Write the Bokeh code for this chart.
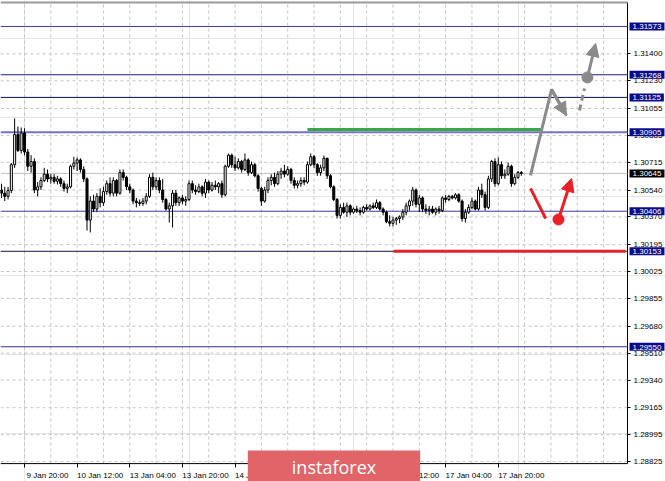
from bokeh.plotting import figure
from bokeh.models import (ColumnDataSource, Range1d, LinearAxis, FixedTicker, Label,
                          Arrow, NormalHead, PrintfTickFormatter)
from bokeh.embed import file_html
from bokeh.resources import INLINE

# ---------------- data ----------------
bar_index = list(range(-7, 152))
opens = [1.30540, 1.30520, 1.30500, 1.30537, 1.30700, 1.30890, 1.30790, 1.30900, 1.30780, 1.30690,
         1.30720, 1.30540, 1.30560, 1.30600, 1.30640, 1.30610, 1.30620, 1.30595, 1.30610, 1.30580,
         1.30550, 1.30560, 1.30690, 1.30710, 1.30730, 1.30670, 1.30610, 1.30350, 1.30470, 1.30420,
         1.30500, 1.30460, 1.30530, 1.30580, 1.30520, 1.30600, 1.30520, 1.30650, 1.30620, 1.30560,
         1.30540, 1.30470, 1.30460, 1.30455, 1.30470, 1.30500, 1.30620, 1.30560, 1.30600, 1.30540,
         1.30480, 1.30420, 1.30440, 1.30520, 1.30460, 1.30490, 1.30470, 1.30480, 1.30580, 1.30540,
         1.30530, 1.30560, 1.30520, 1.30590, 1.30540, 1.30570, 1.30560, 1.30580, 1.30510, 1.30690,
         1.30760, 1.30700, 1.30680, 1.30720, 1.30670, 1.30730, 1.30650, 1.30700, 1.30630, 1.30550,
         1.30470, 1.30540, 1.30600, 1.30620, 1.30580, 1.30640, 1.30660, 1.30640, 1.30670, 1.30600,
         1.30570, 1.30580, 1.30600, 1.30590, 1.30700, 1.30750, 1.30700, 1.30650, 1.30680, 1.30740,
         1.30630, 1.30560, 1.30480, 1.30380, 1.30430, 1.30400, 1.30440, 1.30400, 1.30420, 1.30410,
         1.30400, 1.30430, 1.30420, 1.30440, 1.30430, 1.30460, 1.30420, 1.30400, 1.30340, 1.30330,
         1.30350, 1.30360, 1.30370, 1.30400, 1.30440, 1.30470, 1.30540, 1.30450, 1.30490, 1.30420,
         1.30410, 1.30420, 1.30400, 1.30420, 1.30410, 1.30490, 1.30480, 1.30500, 1.30490, 1.30510,
         1.30470, 1.30360, 1.30400, 1.30430, 1.30470, 1.30420, 1.30540, 1.30510, 1.30430, 1.30610,
         1.30720, 1.30580, 1.30700, 1.30630, 1.30640, 1.30690, 1.30580, 1.30620, 1.30650]
highs = [1.30580, 1.30560, 1.30560, 1.30710, 1.30992, 1.30941, 1.30935, 1.30930, 1.30800, 1.30760,
         1.30740, 1.30590, 1.30620, 1.30680, 1.30670, 1.30640, 1.30640, 1.30630, 1.30620, 1.30600,
         1.30580, 1.30700, 1.30750, 1.30745, 1.30740, 1.30690, 1.30620, 1.30500, 1.30510, 1.30520,
         1.30550, 1.30560, 1.30600, 1.30620, 1.30620, 1.30610, 1.30670, 1.30670, 1.30630, 1.30580,
         1.30550, 1.30490, 1.30480, 1.30490, 1.30520, 1.30640, 1.30650, 1.30620, 1.30620, 1.30610,
         1.30490, 1.30460, 1.30540, 1.30540, 1.30500, 1.30510, 1.30500, 1.30600, 1.30600, 1.30570,
         1.30580, 1.30570, 1.30610, 1.30600, 1.30590, 1.30600, 1.30590, 1.30600, 1.30700, 1.30770,
         1.30770, 1.30750, 1.30740, 1.30730, 1.30771, 1.30740, 1.30720, 1.30710, 1.30640, 1.30560,
         1.30560, 1.30620, 1.30640, 1.30650, 1.30660, 1.30680, 1.30700, 1.30690, 1.30680, 1.30620,
         1.30600, 1.30620, 1.30620, 1.30720, 1.30771, 1.30760, 1.30710, 1.30700, 1.30758, 1.30745,
         1.30640, 1.30570, 1.30490, 1.30450, 1.30460, 1.30460, 1.30450, 1.30430, 1.30440, 1.30430,
         1.30440, 1.30450, 1.30450, 1.30460, 1.30480, 1.30470, 1.30430, 1.30410, 1.30380, 1.30370,
         1.30370, 1.30380, 1.30420, 1.30460, 1.30480, 1.30560, 1.30550, 1.30510, 1.30500, 1.30450,
         1.30440, 1.30440, 1.30430, 1.30440, 1.30500, 1.30510, 1.30510, 1.30510, 1.30520, 1.30520,
         1.30480, 1.30420, 1.30450, 1.30490, 1.30480, 1.30560, 1.30580, 1.30530, 1.30630, 1.30730,
         1.30740, 1.30746, 1.30720, 1.30670, 1.30714, 1.30700, 1.30640, 1.30660, 1.30660]
lows = [1.30490, 1.30470, 1.30480, 1.30520, 1.30680, 1.30780, 1.30770, 1.30760, 1.30660, 1.30650,
        1.30520, 1.30500, 1.30540, 1.30590, 1.30590, 1.30580, 1.30580, 1.30575, 1.30560, 1.30530,
        1.30520, 1.30550, 1.30670, 1.30660, 1.30650, 1.30590, 1.30284, 1.30272, 1.30400, 1.30400,
        1.30430, 1.30440, 1.30510, 1.30500, 1.30500, 1.30500, 1.30510, 1.30600, 1.30540, 1.30520,
        1.30450, 1.30430, 1.30440, 1.30440, 1.30450, 1.30490, 1.30540, 1.30540, 1.30520, 1.30460,
        1.30410, 1.30335, 1.30303, 1.30440, 1.30440, 1.30450, 1.30440, 1.30470, 1.30520, 1.30510,
        1.30520, 1.30500, 1.30490, 1.30520, 1.30530, 1.30540, 1.30520, 1.30490, 1.30500, 1.30680,
        1.30680, 1.30660, 1.30670, 1.30650, 1.30660, 1.30630, 1.30640, 1.30620, 1.30530, 1.30440,
        1.30460, 1.30520, 1.30570, 1.30560, 1.30570, 1.30610, 1.30620, 1.30630, 1.30580, 1.30550,
        1.30550, 1.30560, 1.30570, 1.30580, 1.30690, 1.30680, 1.30630, 1.30630, 1.30660, 1.30610,
        1.30550, 1.30470, 1.30360, 1.30360, 1.30390, 1.30370, 1.30380, 1.30390, 1.30395, 1.30380,
        1.30390, 1.30410, 1.30410, 1.30420, 1.30420, 1.30410, 1.30380, 1.30330, 1.30310, 1.30310,
        1.30320, 1.30330, 1.30350, 1.30380, 1.30410, 1.30440, 1.30430, 1.30400, 1.30400, 1.30390,
        1.30380, 1.30390, 1.30380, 1.30390, 1.30400, 1.30460, 1.30470, 1.30480, 1.30480, 1.30460,
        1.30340, 1.30335, 1.30390, 1.30420, 1.30410, 1.30410, 1.30490, 1.30410, 1.30420, 1.30590,
        1.30560, 1.30570, 1.30610, 1.30610, 1.30630, 1.30560, 1.30570, 1.30610, 1.30630]
closes = [1.30520, 1.30500, 1.30537, 1.30700, 1.30890, 1.30790, 1.30900, 1.30780, 1.30690, 1.30720,
          1.30540, 1.30560, 1.30600, 1.30640, 1.30610, 1.30620, 1.30595, 1.30610, 1.30580, 1.30550,
          1.30560, 1.30690, 1.30710, 1.30730, 1.30670, 1.30610, 1.30350, 1.30470, 1.30420, 1.30500,
          1.30460, 1.30530, 1.30580, 1.30520, 1.30600, 1.30520, 1.30650, 1.30620, 1.30560, 1.30540,
          1.30470, 1.30460, 1.30455, 1.30470, 1.30500, 1.30620, 1.30560, 1.30600, 1.30540, 1.30480,
          1.30420, 1.30440, 1.30520, 1.30460, 1.30490, 1.30470, 1.30480, 1.30580, 1.30540, 1.30530,
          1.30560, 1.30520, 1.30590, 1.30540, 1.30570, 1.30560, 1.30580, 1.30510, 1.30690, 1.30760,
          1.30700, 1.30680, 1.30720, 1.30670, 1.30730, 1.30650, 1.30700, 1.30630, 1.30550, 1.30470,
          1.30540, 1.30600, 1.30620, 1.30580, 1.30640, 1.30660, 1.30640, 1.30670, 1.30600, 1.30570,
          1.30580, 1.30600, 1.30590, 1.30700, 1.30750, 1.30700, 1.30650, 1.30680, 1.30740, 1.30630,
          1.30560, 1.30480, 1.30380, 1.30430, 1.30400, 1.30440, 1.30400, 1.30420, 1.30410, 1.30400,
          1.30430, 1.30420, 1.30440, 1.30430, 1.30460, 1.30420, 1.30400, 1.30340, 1.30330, 1.30350,
          1.30360, 1.30370, 1.30400, 1.30440, 1.30470, 1.30540, 1.30450, 1.30490, 1.30420, 1.30410,
          1.30420, 1.30400, 1.30420, 1.30410, 1.30490, 1.30480, 1.30500, 1.30490, 1.30510, 1.30470,
          1.30360, 1.30400, 1.30430, 1.30470, 1.30420, 1.30540, 1.30510, 1.30430, 1.30610, 1.30720,
          1.30580, 1.30700, 1.30630, 1.30640, 1.30690, 1.30580, 1.30620, 1.30650, 1.30645]

# time axis: bar index of each label, and its text
time_ticks = [0, 16, 32, 48, 64, 80, 96, 112, 128, 144]
time_labels = ["9 Jan 20:00", "10 Jan 12:00", "13 Jan 04:00", "13 Jan 20:00", "14 Jan 12:00",
               "15 Jan 04:00", "15 Jan 20:00", "16 Jan 12:00", "17 Jan 04:00", "17 Jan 20:00"]
grid_x = [0, 8, 16, 24, 32, 40, 48, 56, 64, 72, 80, 88, 96, 104, 112, 120, 128, 136, 144,
          152, 160, 168, 176]
price_ticks = [1.31400, 1.31230, 1.31055, 1.30885, 1.30715, 1.30540, 1.30370, 1.30195,
               1.30025, 1.29855, 1.29680, 1.29510, 1.29340, 1.29165, 1.28995, 1.28825]

# chart window (bar index / price) and the outer area holding the scales
chart_x = (-7.295, 183.28)
chart_y = (1.28812, 1.31725)
outer_x_end = 194.83
outer_y = (1.28699, 1.31737)

levels = [1.31573, 1.31268, 1.31125, 1.30905, 1.30406, 1.30153, 1.29550]
level_text = ["1.31573", "1.31268", "1.31125", "1.30905", "1.30406", "1.30153", "1.29550"]
level_colors = ["#3c3ca8", "#1e1e82", "#0c0c50", "#7272c6", "#3a3aa0", "#141448", "#2e2e9c"]
level_widths = [1, 1, 1, 2, 1, 1, 1]
bid_price = 1.30645

green_x = [86.0, 157.1]
green_y = [1.30922, 1.30922]
red_x = [112.2, 182.7]
red_y = [1.30153, 1.30153]

# forecast drawings (bar index, price)
up_path_x = [153.8, 160.2, 164.7]
up_path_y = [1.30632, 1.31175, 1.31011]
up_dash_x = [168.7, 170.2]
up_dash_y = [1.31042, 1.31181]
up_dot = (171.1, 1.31251)
up_tip = (173.6, 1.31466)
dn_path_x = [153.8, 158.4]
dn_path_y = [1.30550, 1.30360]
dn_dot = (162.3, 1.30354)
dn_tip = (166.3, 1.30613)

# ---------------- figure ----------------
FONT = "Liberation Sans"
p = figure(width=665, height=481, output_backend="svg", toolbar_location=None,
           x_range=Range1d(chart_x[0], outer_x_end), y_range=Range1d(outer_y[0], outer_y[1]),
           x_axis_location=None, y_axis_location=None,
           min_border_left=0, min_border_top=0, min_border_right=0, min_border_bottom=0)
p.outline_line_color = None
p.background_fill_color = "white"
p.border_fill_color = "white"

# dashed grid, limited to the chart window
p.segment(x0=grid_x, y0=[chart_y[0]] * len(grid_x), x1=grid_x, y1=[chart_y[1]] * len(grid_x),
          line_color="#c4c4c4", line_dash="3 3", line_width=1)
p.segment(x0=[chart_x[0]] * len(price_ticks), y0=price_ticks, x1=[chart_x[1]] * len(price_ticks),
          y1=price_ticks, line_color="#c4c4c4", line_dash="3 3", line_width=1)

# right price axis (drawn at the chart's right edge)
yaxis = LinearAxis(ticker=FixedTicker(ticks=price_ticks), formatter=PrintfTickFormatter(format="%.5f"),
                   fixed_location=chart_x[1])
yaxis.axis_line_color = None
yaxis.major_tick_out = 3
yaxis.major_tick_in = 0
yaxis.minor_tick_out = 0
yaxis.minor_tick_in = 0
yaxis.major_tick_line_color = "black"
yaxis.major_label_standoff = 3
yaxis.major_label_text_font = FONT
yaxis.major_label_text_font_size = "8px"
yaxis.major_label_text_color = "black"
p.add_layout(yaxis, "right")

# bottom time axis: labels placed just right of their tick marks
label_pos = [t + 7 for t in time_ticks]
xaxis = LinearAxis(ticker=FixedTicker(ticks=label_pos, minor_ticks=time_ticks),
                   major_label_overrides={lp: tl for lp, tl in zip(label_pos, time_labels)},
                   fixed_location=chart_y[0])
xaxis.axis_line_color = None
xaxis.major_tick_out = 0
xaxis.major_tick_in = 0
xaxis.minor_tick_out = 4
xaxis.minor_tick_in = 0
xaxis.minor_tick_line_color = "black"
xaxis.major_label_standoff = 3
xaxis.major_label_text_font = FONT
xaxis.major_label_text_font_size = "8px"
xaxis.major_label_text_color = "black"
p.add_layout(xaxis, "below")

# chart border lines
p.segment(x0=[chart_x[0], chart_x[1], chart_x[0]], y0=[chart_y[0], chart_y[0], chart_y[1]],
          x1=[chart_x[1], chart_x[1], chart_x[1]], y1=[chart_y[0], chart_y[1], chart_y[1]],
          line_color=["black", "black", "#9a9a9a"], line_width=[1, 1, 2])

# level lines
p.segment(x0=[chart_x[0]] * len(levels), y0=levels, x1=[chart_x[1]] * len(levels), y1=levels,
          line_color=level_colors, line_width=level_widths)
p.segment(x0=[chart_x[0]], y0=[bid_price], x1=[chart_x[1]], y1=[bid_price],
          line_color="#c0c0c0", line_width=1)

# candles
tops = [max(o, c) for o, c in zip(opens, closes)]
bots = [min(o, c) for o, c in zip(opens, closes)]
fills = ["white" if c >= o else "black" for o, c in zip(opens, closes)]
src = ColumnDataSource(dict(x=bar_index, h=highs, l=lows, top=tops, bot=bots, fill=fills))
p.segment(x0="x", y0="l", x1="x", y1="h", source=src, line_color="black", line_width=1)
p.vbar(x="x", width=0.62, top="top", bottom="bot", source=src, fill_color="fill",
       line_color="black", line_width=1)

# green / red zones
p.line(green_x, green_y, line_color="#3aa845", line_width=3)
p.line(red_x, red_y, line_color="#e8202a", line_width=3)

# forecast: gray
GRAY = "#8a8a8a"
p.line(up_path_x, up_path_y, line_color=GRAY, line_width=3)
p.add_layout(Arrow(end=NormalHead(size=13, fill_color=GRAY, line_color=GRAY),
                   x_start=up_path_x[1], y_start=up_path_y[1], x_end=up_path_x[2], y_end=up_path_y[2],
                   line_color=GRAY, line_width=3))
p.line(up_dash_x, up_dash_y, line_color=GRAY, line_width=3, line_dash="6 4")
p.scatter([up_dot[0]], [up_dot[1]], size=11, fill_color=GRAY, line_color=GRAY)
p.add_layout(Arrow(end=NormalHead(size=13, fill_color=GRAY, line_color=GRAY),
                   x_start=up_dot[0], y_start=up_dot[1], x_end=up_tip[0], y_end=up_tip[1],
                   line_color=GRAY, line_width=3))

# forecast: red
RED = "#ea1f27"
p.line(dn_path_x, dn_path_y, line_color=RED, line_width=3)
p.scatter([dn_dot[0]], [dn_dot[1]], size=11, fill_color=RED, line_color=RED)
p.add_layout(Arrow(end=NormalHead(size=13, fill_color=RED, line_color=RED),
                   x_start=dn_dot[0], y_start=dn_dot[1], x_end=dn_tip[0], y_end=dn_tip[1],
                   line_color=RED, line_width=3))

# price labels on the scale
for lv, txt in zip(levels, level_text):
    p.add_layout(Label(x=183.9, y=lv, text=txt, anchor="center_left", text_font=FONT,
                       text_font_size="8px", text_color="white", background_fill_color="#0a0a8a",
                       padding=dict(left=3, right=3, top=2, bottom=1)))
p.add_layout(Label(x=183.9, y=bid_price, text="1.30645", anchor="center_left", text_font=FONT,
                   text_font_size="8px", text_color="white", background_fill_color="black",
                   padding=dict(left=3, right=3, top=2, bottom=1)))

# watermark banner
p.add_layout(Label(x=94.07, y=1.28895, text="instaforex", anchor="top_center", text_font="Open Sans",
                   text_font_size="18px", text_color="white", background_fill_color="#e16568",
                   padding=dict(left=44, right=44, top=5, bottom=3)))

open("out.html", "w").write(file_html(p, INLINE))
